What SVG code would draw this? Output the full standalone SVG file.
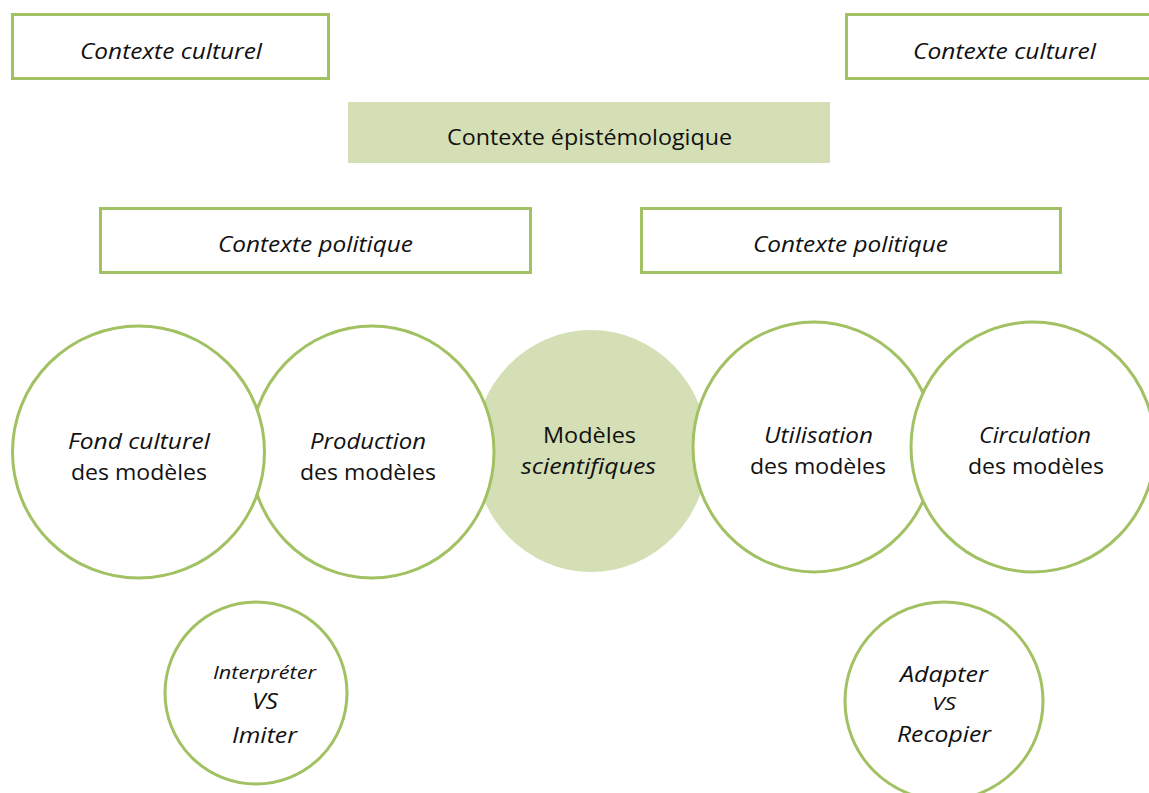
<svg xmlns="http://www.w3.org/2000/svg" width="1149" height="793" viewBox="0 0 1149 793">
<style>
.box{fill:#ffffff;stroke:#a2c163;stroke-width:3}
.fillbox{fill:#d4dfb5;stroke:none}
.circ{fill:#ffffff;stroke:#a2c163;stroke-width:3}
.t{font-family:"Open Sans","Liberation Sans",sans-serif;font-size:21px;fill:#111111;text-anchor:middle}
.i{font-style:italic}
.s{font-size:18px}
</style>
<rect width="1149" height="793" fill="#ffffff"/>
<g id="culturel-left">
<rect class="box" x="12.5" y="14.5" width="316" height="64"/>
<text class="t i" x="171" y="59" textLength="182" lengthAdjust="spacingAndGlyphs">Contexte culturel</text>
</g>
<g id="culturel-right">
<rect class="box" x="846.5" y="14.5" width="310" height="64"/>
<text class="t i" x="1004.5" y="59" textLength="183" lengthAdjust="spacingAndGlyphs">Contexte culturel</text>
</g>
<g id="epistemologique">
<rect class="fillbox" x="348" y="102" width="482" height="61"/>
<text class="t" x="589.5" y="145" textLength="285" lengthAdjust="spacingAndGlyphs">Contexte épistémologique</text>
</g>
<g id="politique-left">
<rect class="box" x="100.5" y="208.5" width="430" height="64"/>
<text class="t i" x="315.5" y="252" textLength="195" lengthAdjust="spacingAndGlyphs">Contexte politique</text>
</g>
<g id="politique-right">
<rect class="box" x="641.5" y="208.5" width="419" height="64"/>
<text class="t i" x="850.5" y="252" textLength="195" lengthAdjust="spacingAndGlyphs">Contexte politique</text>
</g>
<g id="modeles">
<ellipse cx="591" cy="451" rx="117" ry="121" fill="#d4dfb5"/>
<text class="t" x="589.5" y="443" textLength="93" lengthAdjust="spacingAndGlyphs">Modèles</text>
<text class="t i" x="588.5" y="474" textLength="135" lengthAdjust="spacingAndGlyphs">scientifiques</text>
</g>
<g id="production">
<ellipse class="circ" cx="372" cy="452" rx="122" ry="126"/>
<text class="t i" x="368" y="449" textLength="116" lengthAdjust="spacingAndGlyphs">Production</text>
<text class="t" x="368" y="480" textLength="136" lengthAdjust="spacingAndGlyphs">des modèles</text>
</g>
<g id="fond-culturel">
<ellipse class="circ" cx="138.5" cy="452" rx="126" ry="126"/>
<text class="t i" x="139" y="449" textLength="142" lengthAdjust="spacingAndGlyphs">Fond culturel</text>
<text class="t" x="139" y="480" textLength="136" lengthAdjust="spacingAndGlyphs">des modèles</text>
</g>
<g id="utilisation">
<ellipse class="circ" cx="814" cy="447" rx="121" ry="125"/>
<text class="t i" x="818.5" y="443" textLength="109" lengthAdjust="spacingAndGlyphs">Utilisation</text>
<text class="t" x="818" y="474" textLength="136" lengthAdjust="spacingAndGlyphs">des modèles</text>
</g>
<g id="circulation">
<ellipse class="circ" cx="1033" cy="447" rx="122" ry="125"/>
<text class="t i" x="1035" y="443" textLength="112" lengthAdjust="spacingAndGlyphs">Circulation</text>
<text class="t" x="1036" y="474" textLength="136" lengthAdjust="spacingAndGlyphs">des modèles</text>
</g>
<g id="interpreter">
<circle class="circ" cx="256" cy="693" r="91"/>
<text class="t i s" x="264.5" y="679" textLength="103" lengthAdjust="spacingAndGlyphs">Interpréter</text>
<text class="t i" x="265" y="709" textLength="26" lengthAdjust="spacingAndGlyphs">VS</text>
<text class="t i" x="264.5" y="743" textLength="65" lengthAdjust="spacingAndGlyphs">Imiter</text>
</g>
<g id="adapter">
<circle class="circ" cx="944" cy="701" r="99"/>
<text class="t i" x="944" y="682" textLength="88" lengthAdjust="spacingAndGlyphs">Adapter</text>
<text class="t i s" x="944" y="710" textLength="24" lengthAdjust="spacingAndGlyphs">VS</text>
<text class="t i" x="944" y="742" textLength="94" lengthAdjust="spacingAndGlyphs">Recopier</text>
</g>
<g id="connectors"/>
</svg>
